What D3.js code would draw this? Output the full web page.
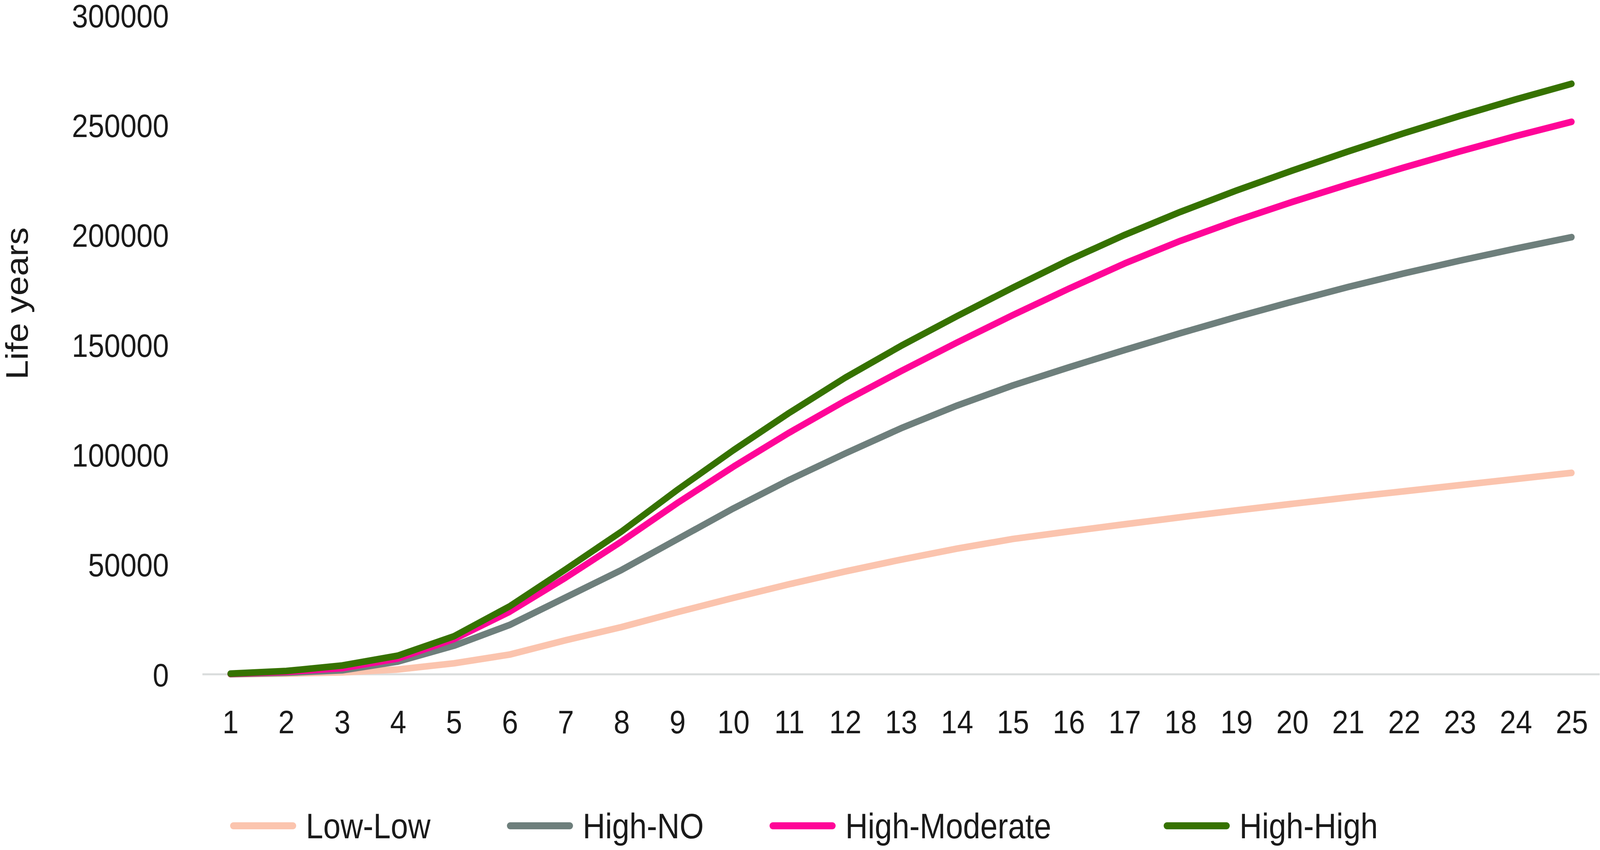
<!DOCTYPE html>
<html>
<head>
<meta charset="utf-8">
<script src="https://cdn.jsdelivr.net/npm/d3@7"></script>
<style>
  html, body { margin: 0; padding: 0; background: #fff; overflow: hidden; }
  #chart svg { display: block; width: 100vw; height: 100vh; }
  text { font-family: "Liberation Sans", Arial, sans-serif; fill: #1a1a1a; }
</style>
</head>
<body>
<div id="chart"></div>
<script>
// data
var years = [1, 2, 3, 4, 5, 6, 7, 8, 9, 10, 11, 12, 13, 14, 15, 16, 17, 18, 19, 20, 21, 22, 23, 24, 25];
var lowLow = [0, 300, 900, 2200, 5000, 9000, 15500, 21500, 28300, 34800, 41000, 46800, 52200, 57200, 61600,
  65000, 68300, 71500, 74600, 77600, 80500, 83300, 86100, 88900, 91700];
var highNo = [100, 700, 1800, 5800, 13000, 22500, 35000, 47500, 61500, 75500, 88500, 100500, 112000, 122300, 131500,
  139700, 147600, 155300, 162600, 169600, 176300, 182500, 188300, 193800, 199000];
var highModerate = [200, 1100, 2800, 7200, 16000, 28500, 44000, 60500, 78000, 94500, 110000, 124500, 138000, 151000, 163500,
  175500, 187000, 197300, 206500, 215000, 223000, 230700, 238000, 245000, 251500];
var highHigh = [300, 1500, 4000, 8500, 17300, 31000, 47800, 65000, 84000, 102000, 119000, 135000, 149500, 163000, 176000,
  188500, 200000, 210500, 220200, 229300, 238000, 246300, 254200, 261700, 268800];
var yTicks = [0, 50000, 100000, 150000, 200000, 250000, 300000];
var seriesNames = ["Low-Low", "High-NO", "High-Moderate", "High-High"];

var series = [
  { name: seriesNames[0], values: lowLow, color: "#fbc4ae" },
  { name: seriesNames[1], values: highNo, color: "#6e7f7c" },
  { name: seriesNames[2], values: highModerate, color: "#ff0598" },
  { name: seriesNames[3], values: highHigh, color: "#367200" }
];

var svgWidth = 4624;
var svgHeight = 2177;

// viewBox so the whole chart always fills the window
var svg = d3.select("#chart")
  .append("svg")
  .attr("viewBox", "0 0 " + svgWidth + " " + svgHeight)
  .attr("preserveAspectRatio", "none");

// scales
var xScale = d3.scalePoint()
  .domain(years)
  .range([585, 4623])
  .padding(0.5);

var yScale = d3.scaleLinear()
  .domain([0, 300000])
  .range([1727, 39]);

// zero gridline
svg.append("line")
  .attr("x1", 585)
  .attr("x2", 4623)
  .attr("y1", yScale(0))
  .attr("y2", yScale(0))
  .attr("stroke", "#d9dcdc")
  .attr("stroke-width", 5);

// y axis labels
var leftAxis = d3.axisLeft(yScale).tickValues(yTicks).tickSize(0).tickPadding(0).tickFormat(d3.format("d"));
var yAxisG = svg.append("g")
  .attr("transform", "translate(488, 0)")
  .call(leftAxis);
yAxisG.select(".domain").remove();
yAxisG.selectAll("text")
  .attr("font-size", 84)
  .attr("font-family", "Liberation Sans, Arial, sans-serif")
  .attr("fill", "#1a1a1a")
  .attr("dy", "0.36em");

// x axis labels
var bottomAxis = d3.axisBottom(xScale).tickSize(0).tickPadding(0);
var xAxisG = svg.append("g")
  .attr("transform", "translate(0, 1818)")
  .call(bottomAxis);
xAxisG.select(".domain").remove();
xAxisG.selectAll("text")
  .attr("font-size", 84)
  .attr("font-family", "Liberation Sans, Arial, sans-serif")
  .attr("fill", "#1a1a1a")
  .attr("dy", "0.71em");

// y axis title
svg.append("text")
  .attr("transform", "translate(80, 972) rotate(-90)")
  .attr("font-size", 90)
  .text("Life years");

// lines
var line = d3.line()
  .x(function(d, i) { return xScale(years[i]); })
  .y(function(d) { return yScale(d); });

svg.selectAll("path.series")
  .data(series)
  .enter()
  .append("path")
  .attr("class", "series")
  .attr("d", function(d) { return line(d.values); })
  .attr("fill", "none")
  .attr("stroke", function(d) { return d.color; })
  .attr("stroke-width", 17)
  .attr("stroke-linecap", "round")
  .attr("stroke-linejoin", "round");

// legend
var legendX = [674, 1474, 2233, 3372];
var legendY = 2115;
var legend = svg.selectAll("g.legend")
  .data(series)
  .enter()
  .append("g")
  .attr("class", "legend")
  .attr("transform", function(d, i) { return "translate(" + legendX[i] + "," + legendY + ")"; });

legend.append("line")
  .attr("x1", 0)
  .attr("x2", 173)
  .attr("stroke", function(d) { return d.color; })
  .attr("stroke-width", 18)
  .attr("stroke-linecap", "round");

legend.append("text")
  .attr("x", 210)
  .attr("y", 32)
  .attr("font-size", 90)
  .text(function(d) { return d.name; });
</script>
</body>
</html>
